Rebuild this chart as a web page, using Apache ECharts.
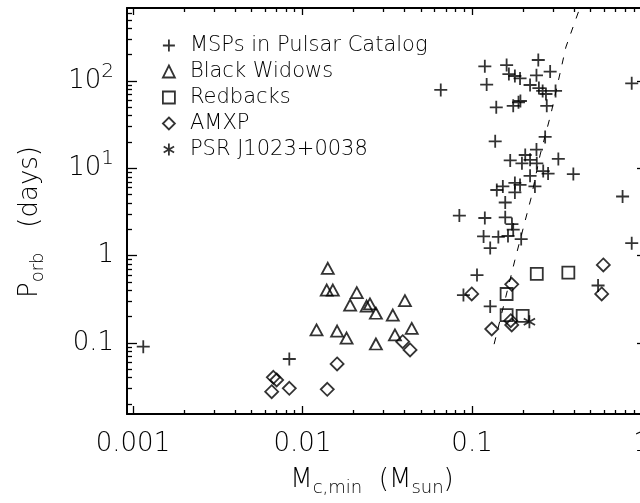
<!DOCTYPE html>
<html>
<head>
<meta charset="utf-8">
<script src="https://cdn.jsdelivr.net/npm/echarts@6/dist/echarts.min.js"></script>
<style>
html,body{margin:0;padding:0;background:#fff;}
#chart{width:640px;height:503px;}
</style>
</head>
<body>
<div id="chart"></div>
<script>
// ---- data ----
const seriesNames = ['MSPs in Pulsar Catalog', 'Black Widows', 'Redbacks', 'AMXP', 'PSR J1023+0038'];

// [M_c,min (M_sun), P_orb (days)]
const mspPoints = [
  [0.119,147],[0.160,152],[0.246,174],[0.122,91],[0.165,120],[0.179,114],[0.192,107],
  [0.220,90],[0.240,116],[0.289,128],[0.248,83],[0.261,77],[0.273,71],[0.311,77],
  [0.276,52],[0.139,50],[0.175,52],[0.188,57],[0.193,59],[0.0654,79],[0.875,94],
  [0.137,20.4],[0.270,22.9],[0.240,16.4],[0.168,12.3],[0.206,14.2],[0.197,11.4],
  [0.220,12.5],[0.241,11.4],[0.323,12.8],[0.263,9.3],[0.281,8.7],[0.396,8.6],[0.220,8.2],
  [0.152,6.2],[0.179,6.8],[0.192,6.45],[0.235,6.2],[0.140,5.65],[0.179,5.3],[0.157,4.06],
  [0.0842,2.88],[0.119,2.70],[0.157,2.75],[0.172,2.30],[0.175,1.99],[0.117,1.66],
  [0.143,1.64],[0.163,1.68],[0.195,1.55],[0.128,1.22],[0.107,0.60],[0.089,0.354],
  [0.128,0.262],[0.554,0.455],[0.773,4.76],[0.875,1.39],[0.00115,0.0907],[0.00836,0.0656]
];
const blackWidowPoints = [
  [0.0141,0.717],[0.0139,0.404],[0.0151,0.404],[0.0209,0.377],[0.0191,0.272],[0.0239,0.265],
  [0.0250,0.280],[0.0271,0.219],[0.0341,0.209],[0.0402,0.305],[0.0121,0.141],[0.0160,0.137],
  [0.0182,0.114],[0.0271,0.0974],[0.0351,0.1235],[0.0441,0.147]
];
const redbackPoints = [
  [0.160,0.364],[0.160,0.209],[0.199,0.204],[0.241,0.617],[0.370,0.638]
];
const amxpPoints = [
  [0.00673,0.0405],[0.00704,0.0377],[0.00658,0.0277],[0.00836,0.0303],[0.0160,0.0575],
  [0.0140,0.0295],[0.0390,0.1035],[0.0431,0.0832],[0.0996,0.364],[0.1715,0.470],
  [0.1307,0.1446],[0.1692,0.180],[0.1715,0.161],[0.595,0.782],[0.582,0.364]
];
const j1023Points = [[0.218,0.175]];

// dashed relation curve
const relationX = [0.135, 0.179, 0.223, 0.252, 0.292, 0.358, 0.433];
const relationY = [0.097, 0.89, 4.56, 14.2, 41.9, 245, 690];

// axis ranges & ticks
const X_MIN = 0.000922, X_MAX = 1.077;
const Y_MIN = 0.01538, Y_MAX = 685;
const xMajorTicks = [0.001, 0.01, 0.1, 1];
const xTickLabels = ['0.001', '0.01', '0.1', '1'];
const yMajorTicks = [0.1, 1, 10, 100];
const yTickLabels = ['0.1', '1', '{n|10}{s|1}', '{n|10}{s|2}'];
const minorMultipliers = [2,3,4,5,6,7,8,9];

// ---- build ----
const FONT = 'DejaVu Sans';
function minorFrom(decades, lo, hi) {
  const out = [];
  decades.forEach(d => minorMultipliers.forEach(m => {
    const v = d * m;
    if (v > lo && v < hi) out.push(v);
  }));
  return out;
}
const xMinorTicks = minorFrom([0.0001].concat(xMajorTicks), X_MIN, X_MAX);
const yMinorTicks = minorFrom([0.01].concat(yMajorTicks), Y_MIN, Y_MAX);

function labelFor(ticks, labels) {
  return function (v) {
    for (let i = 0; i < ticks.length; i++) {
      if (Math.abs(Math.log10(v) - Math.log10(ticks[i])) < 1e-6) return labels[i];
    }
    return '';
  };
}

const black = '#000';
const tickLabelStyle = {
  color: black, fontFamily: FONT, fontSize: 26, fontWeight: 200,
  rich: {
    n: {fontFamily: FONT, fontSize: 26, fontWeight: 200, color: black, lineHeight: 26, verticalAlign: 'middle'},
    s: {fontFamily: FONT, fontSize: 20, fontWeight: 200, color: black, lineHeight: 20, verticalAlign: 'middle', padding: [0,0,19,0]}
  }
};
const subRich = {
  m: {fontFamily: FONT, fontSize: 26, fontWeight: 200, color: black, lineHeight: 26, verticalAlign: 'middle'},
  s: {fontFamily: FONT, fontSize: 18, fontWeight: 200, color: black, lineHeight: 18, verticalAlign: 'middle', padding: [17,0,0,0]}
};

function makeAxis(kind, position, min, max, ticks, len, showLine, extra) {
  return Object.assign({
    type: 'log', logBase: 10, position: position, min: min, max: max, gridIndex: 0,
    axisLine: {show: showLine, onZero: false, lineStyle: {color: black, width: 2}},
    axisTick: {show: true, inside: true, length: len, customValues: ticks, lineStyle: {color: black, width: 1.3}},
    axisLabel: {show: false},
    splitLine: {show: false},
    minorTick: {show: false},
    minorSplitLine: {show: false}
  }, extra || {});
}

const xAxes = [
  makeAxis('x', 'bottom', X_MIN, X_MAX, xMajorTicks, 8, true, {
    axisLabel: Object.assign({show: true, customValues: xMajorTicks, margin: 17,
      alignMinLabel: 'center', alignMaxLabel: 'center', hideOverlap: false,
      formatter: labelFor(xMajorTicks, xTickLabels)}, tickLabelStyle),
    name: '{m|M}{s|c,min}{m|  (M}{s|sun}{m|)}',
    nameLocation: 'middle', nameGap: 53,
    nameTextStyle: {rich: subRich, padding: [0, 30, 0, 0]}
  }),
  makeAxis('x', 'bottom', X_MIN, X_MAX, xMinorTicks, 4, false),
  makeAxis('x', 'top', X_MIN, X_MAX, xMajorTicks, 7, true),
  makeAxis('x', 'top', X_MIN, X_MAX, xMinorTicks, 4, false)
];
const yAxes = [
  makeAxis('y', 'left', Y_MIN, Y_MAX, yMajorTicks, 10, true, {
    axisLabel: Object.assign({show: true, customValues: yMajorTicks, margin: 13,
      formatter: labelFor(yMajorTicks, yTickLabels)}, tickLabelStyle),
    name: '{m|P}{s|orb}{m|   (days)}',
    nameLocation: 'middle', nameGap: 84,
    nameTextStyle: {rich: subRich, padding: [0, 22, 0, 0]}
  }),
  makeAxis('y', 'left', Y_MIN, Y_MAX, yMinorTicks, 5, false),
  makeAxis('y', 'right', Y_MIN, Y_MAX, yMajorTicks, 10, true),
  makeAxis('y', 'right', Y_MIN, Y_MAX, yMinorTicks, 5, false)
];

const markStyle = {color: 'rgba(0,0,0,0)', borderColor: black, borderWidth: 1.8};
const PLUS = 'path://M6,0L6,12M0,6L12,6';
const STAR = 'path://M6,0L6,12M0.8,3L11.2,9M0.8,9L11.2,3';

function scatter(name, data, symbol, size, keep) {
  return {
    name: name, type: 'scatter', xAxisIndex: 0, yAxisIndex: 0,
    data: data, symbol: symbol, symbolSize: size, symbolKeepAspect: !!keep,
    itemStyle: markStyle, emphasis: {disabled: true}, silent: true
  };
}

const relationData = relationX.map((x, i) => [x, relationY[i]]);

const option = {
  animation: false,
  backgroundColor: '#fff',
  grid: {left: 127, top: 8, right: -7, bottom: 89, containLabel: false, outerBoundsMode: 'none'},
  xAxis: xAxes,
  yAxis: yAxes,
  legend: {
    orient: 'vertical', left: 157, top: 30,
    itemWidth: 12, itemHeight: 12, itemGap: 5,
    selectedMode: false,
    textStyle: {fontFamily: FONT, fontSize: 21, fontWeight: 200, color: black, lineHeight: 20, padding: [0,0,0,10]},
    itemStyle: markStyle,
    data: [
      {name: seriesNames[0], icon: PLUS},
      {name: seriesNames[1], icon: 'triangle'},
      {name: seriesNames[2], icon: 'rect'},
      {name: seriesNames[3], icon: 'diamond'},
      {name: seriesNames[4], icon: STAR}
    ]
  },
  series: [
    {
      type: 'line', xAxisIndex: 0, yAxisIndex: 0, data: relationData,
      symbol: 'none', smooth: false, silent: true, clip: true,
      lineStyle: {color: black, width: 1, type: [7, 9]}
    },
    scatter(seriesNames[0], mspPoints, PLUS, 13),
    scatter(seriesNames[1], blackWidowPoints, 'triangle', [12, 11]),
    scatter(seriesNames[2], redbackPoints, 'rect', 12),
    scatter(seriesNames[3], amxpPoints, 'diamond', 13),
    scatter(seriesNames[4], j1023Points, STAR, 13, true)
  ]
};

const chart = echarts.init(document.getElementById('chart'), null, {renderer: 'canvas'});
chart.setOption(option);
</script>
</body>
</html>
